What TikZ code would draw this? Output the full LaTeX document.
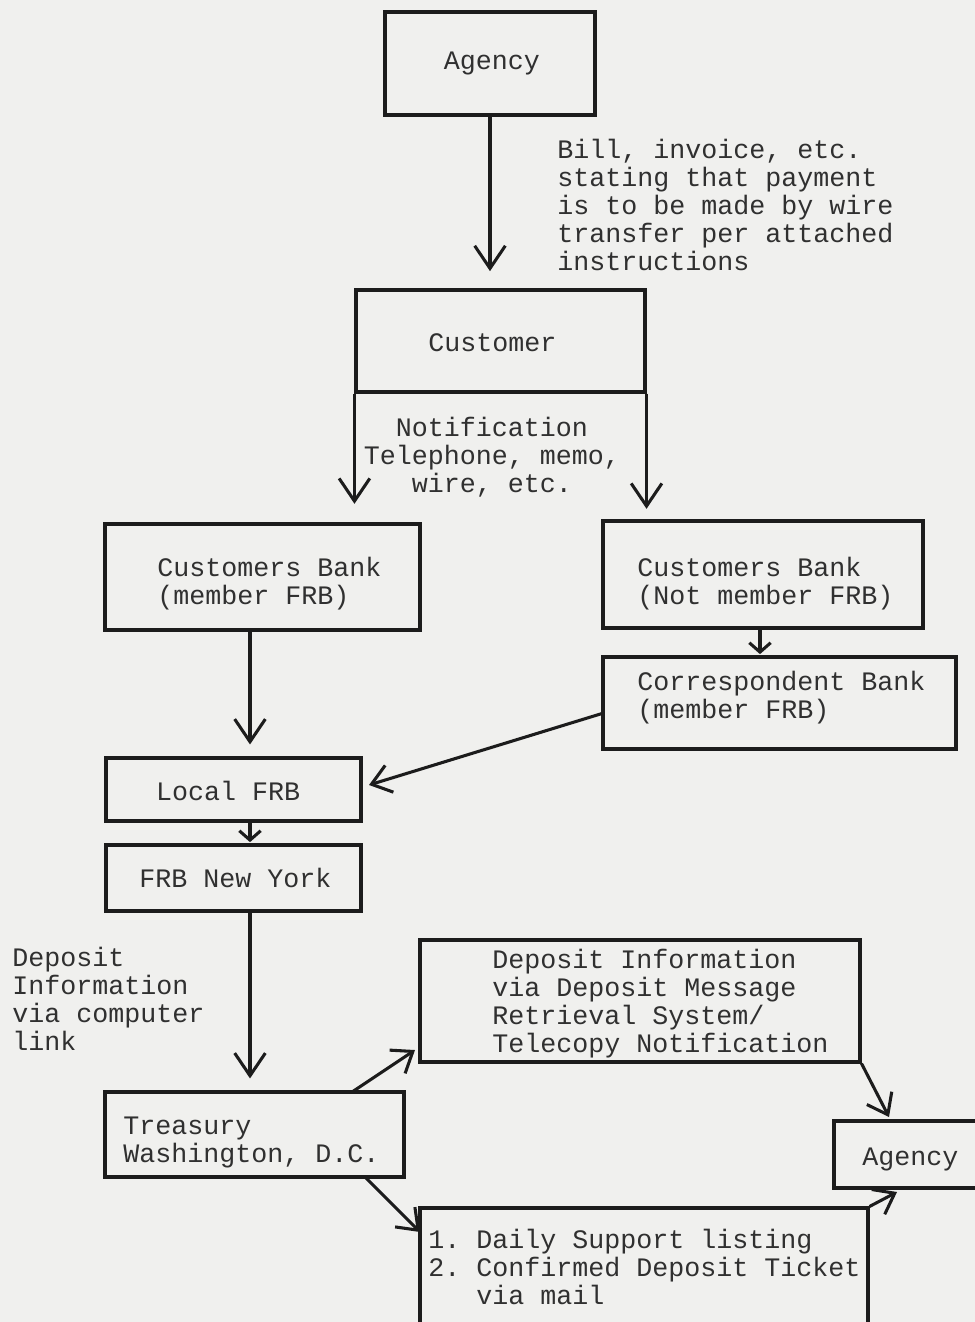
\documentclass[tikz,border=0pt]{standalone}
\usepackage{fontspec}
\setmonofont{Liberation Mono}
\usetikzlibrary{arrows.meta,fit}
\definecolor{bg}{HTML}{F0F0EE}
\definecolor{ink}{HTML}{1C1C1C}
\definecolor{txt}{HTML}{303030}
\tikzset{
  bx/.style={draw=ink, line width=2.3pt, inner sep=0pt, fit={#1}},
  lbl/.style={font=\ttfamily\fontsize{20}{21}\selectfont, text=txt, inner sep=0pt, align=left},
  arr/.style={draw=ink, line width=2.3pt, -{Straight Barb[length=17pt,width=23pt,line width=2.3pt]}},
  sarr/.style={draw=ink, line width=2.3pt, -{Straight Barb[length=7pt,width=16pt,line width=2.3pt]}},
  darr/.style={draw=ink, line width=2.3pt, -{Straight Barb[length=14pt,width=21pt,line width=2.3pt]}},
}
\begin{document}
\begin{tikzpicture}[x=0.75pt,y=-0.75pt]
\useasboundingbox (0,0) rectangle (975,1322);
\fill[bg] (0,0) rectangle (975,1322);
\clip (0,0) rectangle (975,1322);
% boxes
\node[bx={(385,12)(595,115)}] (ag) {};
\node[bx={(356,290)(645,392)}] (cust) {};
\node[bx={(105,524)(420,630)}] (bankA) {};
\node[bx={(603,521)(923,628)}] (bankB) {};
\node[bx={(603,657)(956,749)}] (corr) {};
\node[bx={(106,758)(361,821)}] (lfrb) {};
\node[bx={(106,845)(361,911)}] (frbny) {};
\node[bx={(105,1092)(404,1177)}] (treas) {};
\node[bx={(420,940)(860,1062)}] (depmsg) {};
\node[bx={(834,1121)(995,1188)}] (ag2) {};
\node[bx={(420,1208)(868,1335)}] (bot) {};
% texts
\node[lbl] (tag) at ([xshift=1.5pt]ag.center) {Agency};
\node[lbl] (tcust) at ([xshift=-6pt,yshift=-1pt]cust.center) {Customer};
\node[lbl] (tlfrb) at ([xshift=-4pt,yshift=-1pt]lfrb.center) {Local FRB};
\node[lbl] (tfrbny) at ([xshift=1.5pt,yshift=0pt]frbny.center) {FRB New York};
\node[lbl, anchor=base west] (tbill) at (557,270) {Bill, invoice, etc.\\stating that payment\\is to be made by wire\\transfer per attached\\instructions};
\node[lbl, align=center, anchor=base] (tnotif) at (492,492) {Notification\\Telephone, memo,\\wire, etc.};
\node[lbl, anchor=base west] (tbankA) at (157,604) {Customers Bank\\(member FRB)};
\node[lbl, anchor=base west] (tbankB) at (637,604) {Customers Bank\\(Not member FRB)};
\node[lbl, anchor=base west] (tcorr) at (637,718) {Correspondent Bank\\(member FRB)};
\node[lbl, anchor=base west] (tdep) at (12,1050) {Deposit\\Information\\via computer\\link};
\node[lbl, anchor=base west] (ttreas) at (123,1162) {Treasury\\Washington, D.C.};
\node[lbl, anchor=base west] (tdepmsg) at (492,1052) {Deposit Information\\via Deposit Message\\Retrieval System/\\Telecopy Notification};
\node[lbl, anchor=base west] (tag2) at (862,1165) {Agency};
\node[lbl, anchor=base west] (tbot) at (428,1304) {1. Daily Support listing\\2. Confirmed Deposit Ticket\\\hphantom{2. }via mail};
% helper coordinates
\coordinate (xA) at (250,0);
\coordinate (xB) at (760,0);
\coordinate (e1) at (369,785);
\coordinate (s2) at (352,1092);
\coordinate (e2) at (415,1050);
\coordinate (e3) at (889,1117);
\coordinate (s4) at (365,1177);
\coordinate (e4) at (420,1232);
\coordinate (e5) at (897,1192);
% connectors
\draw[arr, shorten >=13pt] (ag.south) -- (cust.north -| ag.south);
\draw[arr, shorten >=14pt] (cust.south west) -- (cust.south west |- bankA.north);
\draw[arr, shorten >=8pt] (cust.south east) -- (cust.south east |- bankB.north);
\draw[arr, shorten >=9pt] (bankA.south -| xA) -- (lfrb.north -| xA);
\draw[sarr, shorten >=1pt] (bankB.south -| xB) -- (corr.north -| xB);
\draw[darr] ([yshift=-8pt]corr.west) -- (e1);
\draw[sarr, shorten >=1pt] (lfrb.south -| xA) -- (frbny.north -| xA);
\draw[arr, shorten >=9pt] (frbny.south -| xA) -- (treas.north -| xA);
\draw[darr] (s2) -- (e2);
\draw[darr] (depmsg.south east) -- (e3);
\draw[darr] (s4) -- (e4);
\draw[darr] (bot.north east) -- (e5);
\end{tikzpicture}
\end{document}
